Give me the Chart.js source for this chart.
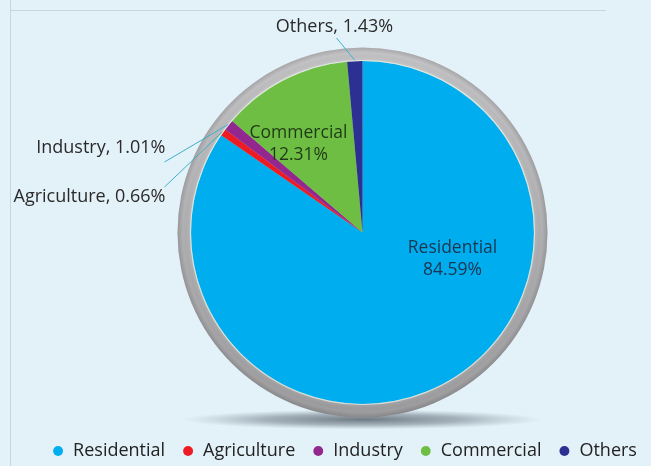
<!DOCTYPE html>
<html>
<head>
<meta charset="utf-8">
<script src="https://cdn.jsdelivr.net/npm/chart.js@4.4.1/dist/chart.umd.min.js"></script>
<style>
  html, body { margin: 0; padding: 0; background: #e3f1f9; overflow: hidden; }
  #wrap { position: relative; width: 651px; height: 466px; }
</style>
</head>
<body>
<div id="wrap"><canvas id="c" width="651" height="466"></canvas></div>
<script>
// Electricity consumption share by sector (%)
const categories = ['Residential', 'Agriculture', 'Industry', 'Commercial', 'Others'];
const shares = [84.59, 0.66, 1.01, 12.31, 1.43];
const sliceColors = ['#00aeef', '#ed1c24', '#92278f', '#6fbe44', '#2b3092'];

const FONT = "'Open Sans', 'Noto Sans', sans-serif";

// Page backdrop with the thin frame lines
const backdrop = {
  id: 'backdrop',
  beforeDraw(chart) {
    const ctx = chart.ctx;
    ctx.save();
    ctx.fillStyle = '#e3f1f9';
    ctx.fillRect(0, 0, chart.width, chart.height);
    ctx.strokeStyle = '#c6d5de';
    ctx.lineWidth = 1;
    ctx.beginPath();
    ctx.moveTo(10.5, 0);
    ctx.lineTo(10.5, chart.height);
    ctx.moveTo(10.5, 10.5);
    ctx.lineTo(606, 10.5);
    ctx.stroke();
    ctx.restore();
  }
};

// Shadow, grey rim and slice labels around the pie
const pieDecor = {
  id: 'pieDecor',
  beforeDatasetsDraw(chart, args, opts) {
    const ctx = chart.ctx;
    const arc = chart.getDatasetMeta(0).data[0];
    ctx.save();
    ctx.translate(opts.shiftX, 0);
    if (!arc) return;
    const cx = arc.x, cy = arc.y, r = arc.outerRadius;
    const R = r + opts.ringWidth;

    // soft floor shadow
    ctx.save();
    ctx.translate(cx, cy + R + opts.shadowDrop);
    ctx.scale(1, opts.shadowRy / opts.shadowRx);
    const sg = ctx.createRadialGradient(0, 0, 0, 0, 0, opts.shadowRx);
    sg.addColorStop(0, 'rgba(70,82,92,0.75)');
    sg.addColorStop(0.55, 'rgba(90,102,112,0.45)');
    sg.addColorStop(1, 'rgba(120,135,145,0)');
    ctx.fillStyle = sg;
    ctx.beginPath();
    ctx.arc(0, 0, opts.shadowRx, 0, Math.PI * 2);
    ctx.fill();
    ctx.restore();

    // grey rim
    const lg = ctx.createLinearGradient(0, cy - R, 0, cy + R);
    lg.addColorStop(0, '#c4c3c5');
    lg.addColorStop(1, '#9d9c9f');
    ctx.fillStyle = lg;
    ctx.beginPath();
    ctx.arc(cx, cy, R, 0, Math.PI * 2);
    ctx.fill();
    const rg = ctx.createRadialGradient(cx, cy, r, cx, cy, R);
    rg.addColorStop(0, 'rgba(255,255,255,0.12)');
    rg.addColorStop(0.6, 'rgba(0,0,0,0)');
    rg.addColorStop(1, 'rgba(0,0,0,0.14)');
    ctx.fillStyle = rg;
    ctx.fill();
    // stays translated until the slices and labels are drawn
  },
  afterDatasetsDraw(chart, args, opts) {
    const ctx = chart.ctx;
    const meta = chart.getDatasetMeta(0);
    const arc0 = meta.data[0];
    if (!arc0) { ctx.restore(); return; }
    const cx = arc0.x, cy = arc0.y, r = arc0.outerRadius;

    // light edge between slices and rim
    ctx.strokeStyle = 'rgba(235,248,235,0.7)';
    ctx.lineWidth = 1.2;
    ctx.beginPath();
    ctx.arc(cx, cy, r + 0.5, 0, Math.PI * 2);
    ctx.stroke();

    ctx.textBaseline = 'middle';

    // labels inside the large slices
    Object.keys(opts.inside).forEach(k => {
      const i = +k, s = opts.inside[k];
      ctx.font = `${s.size}px ${FONT}`;
      ctx.fillStyle = s.color;
      ctx.textAlign = 'center';
      ctx.fillText(categories[i], cx + s.dx, cy + s.dy);
      ctx.fillText(shares[i].toFixed(2) + '%', cx + s.dx, cy + s.dy + s.lineGap);
    });

    // labels outside the thin slices, with leader lines
    Object.keys(opts.outside).forEach(k => {
      const i = +k, s = opts.outside[k];
      const a = meta.data[i];
      const mid = (a.startAngle + a.endAngle) / 2;
      const ex = cx + Math.cos(mid) * (r + 1);
      const ey = cy + Math.sin(mid) * (r + 1);
      ctx.strokeStyle = opts.leaderColor;
      ctx.lineWidth = 1;
      ctx.beginPath();
      ctx.moveTo(cx + s.lx, cy + s.ly);
      ctx.lineTo(ex, ey);
      ctx.stroke();
      ctx.font = `${s.size}px ${FONT}`;
      ctx.fillStyle = '#2a2a2a';
      ctx.textAlign = s.align;
      ctx.fillText(`${categories[i]}, ${shares[i].toFixed(2)}%`, cx + s.dx, cy + s.dy);
    });

    ctx.restore();
  }
};

function build() {
  Chart.defaults.font.family = FONT;
  new Chart(document.getElementById('c'), {
    type: 'pie',
    data: {
      labels: categories,
      datasets: [{
        data: shares,
        backgroundColor: sliceColors,
        borderWidth: 0,
        radius: 171.5,
        clip: false
      }]
    },
    options: {
      responsive: false,
      devicePixelRatio: 1,
      animation: false,
      events: [],
      layout: { padding: { left: 20, right: -18, top: 40, bottom: -4 } },
      plugins: {
        tooltip: { enabled: false },
        legend: {
          position: 'bottom',
          labels: {
            usePointStyle: true,
            pointStyle: 'circle',
            boxWidth: 12,
            boxHeight: 7,
            padding: 17,
            color: '#222222',
            font: { size: 18, family: FONT }
          }
        },
        pieDecor: {
          shiftX: 27,
          ringWidth: 13.5,
          shadowDrop: 2,
          shadowRx: 180,
          shadowRy: 10,
          leaderColor: '#3fb0cc',
          inside: {
            0: { dx: 90, dy: 15.5, lineGap: 22, size: 17.5, color: '#1b3550' },
            3: { dx: -64, dy: -99, lineGap: 21.5, size: 17.5, color: '#1f3a16' }
          },
          outside: {
            4: { dx: -28, dy: -205.5, align: 'center', lx: -26, ly: -194.5, size: 18 },
            2: { dx: -197, dy: -84.5, align: 'right', lx: -198, ly: -70.5, size: 18 },
            1: { dx: -197, dy: -35.5, align: 'right', lx: -198, ly: -45.5, size: 18 }
          }
        }
      }
    },
    plugins: [backdrop, pieDecor]
  });
}

if (document.fonts && document.fonts.load) {
  document.fonts.load(`18px ${FONT}`).then(build, build);
} else {
  build();
}
</script>
</body>
</html>
